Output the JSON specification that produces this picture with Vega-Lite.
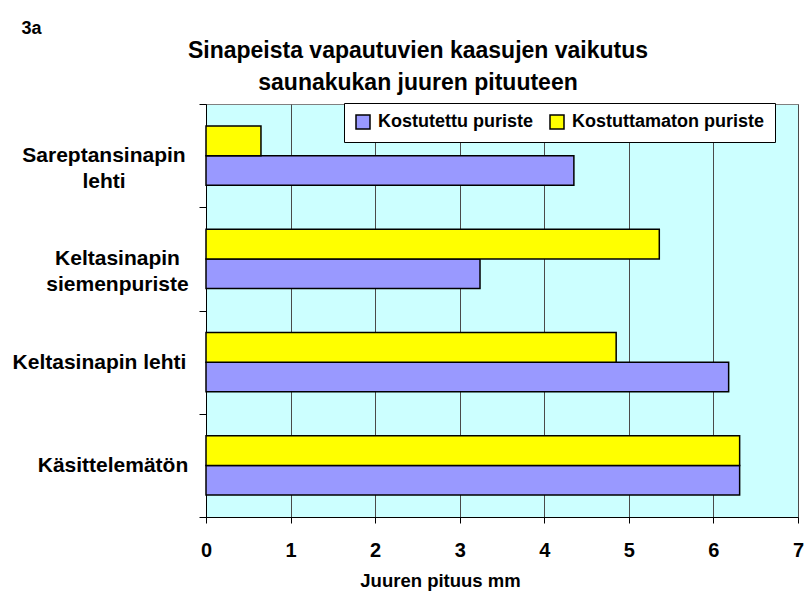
{
  "$schema": "https://vega.github.io/schema/vega-lite/v6.json",
  "width": 592,
  "height": 413,
  "autosize": {"type": "none"},
  "padding": {"left": 206, "top": 104, "right": 13, "bottom": 79},
  "background": "white",
  "title": {
    "text": ["Sinapeista vapautuvien kaasujen vaikutus", "saunakukan juuren pituuteen"],
    "font": "Liberation Sans",
    "fontSize": 23,
    "fontWeight": "bold",
    "color": "black",
    "anchor": "middle",
    "dx": -84,
    "dy": 86,
    "offset": 10,
    "lineHeight": 32
  },
  "data": {
    "values": [
      {"kasittely": "Sareptansinapin lehti", "sarja": "Kostutettu puriste", "pituus": 4.35},
      {"kasittely": "Sareptansinapin lehti", "sarja": "Kostuttamaton puriste", "pituus": 0.65},
      {"kasittely": "Keltasinapin siemenpuriste", "sarja": "Kostutettu puriste", "pituus": 3.24},
      {"kasittely": "Keltasinapin siemenpuriste", "sarja": "Kostuttamaton puriste", "pituus": 5.36},
      {"kasittely": "Keltasinapin lehti", "sarja": "Kostutettu puriste", "pituus": 6.18},
      {"kasittely": "Keltasinapin lehti", "sarja": "Kostuttamaton puriste", "pituus": 4.85},
      {"kasittely": "Käsittelemätön", "sarja": "Kostutettu puriste", "pituus": 6.31},
      {"kasittely": "Käsittelemätön", "sarja": "Kostuttamaton puriste", "pituus": 6.31}
    ]
  },
  "mark": {"type": "bar", "stroke": "black", "strokeWidth": 1.5},
  "encoding": {
    "y": {
      "field": "kasittely",
      "type": "nominal",
      "sort": ["Sareptansinapin lehti", "Keltasinapin siemenpuriste", "Keltasinapin lehti", "Käsittelemätön"],
      "scale": {"paddingInner": 0, "paddingOuter": 0},
      "axis": {
        "title": "3a",
        "titleAngle": 0,
        "titleX": -185,
        "titleY": -71,
        "titleAlign": "left",
        "titleBaseline": "alphabetic",
        "titleFont": "Liberation Sans",
        "titleFontSize": 18,
        "titleFontWeight": "bold",
        "titleColor": "black",
        "tickBand": "extent",
        "tickSize": 7,
        "tickColor": "black",
        "domainColor": "black",
        "grid": false,
        "labelFont": "Liberation Sans",
        "labelFontSize": 21,
        "labelFontWeight": "bold",
        "labelColor": "black",
        "labelAlign": "center",
        "labelBaseline": "middle",
        "labelLineHeight": 26,
        "labelLimit": 400,
        "labelPadding": {
          "condition": [
            {"test": "datum.value == 'Sareptansinapin lehti'", "value": 95.5},
            {"test": "datum.value == 'Keltasinapin siemenpuriste'", "value": 82},
            {"test": "datum.value == 'Keltasinapin lehti'", "value": 100}
          ],
          "value": 86.5
        },
        "labelExpr": "datum.value == 'Sareptansinapin lehti' ? ['Sareptansinapin', 'lehti'] : datum.value == 'Keltasinapin siemenpuriste' ? ['Keltasinapin', 'siemenpuriste'] : datum.value"
      }
    },
    "yOffset": {
      "field": "sarja",
      "type": "nominal",
      "sort": ["Kostuttamaton puriste", "Kostutettu puriste"],
      "scale": {"paddingInner": 0, "paddingOuter": 0.746}
    },
    "x": {
      "field": "pituus",
      "type": "quantitative",
      "scale": {"domain": [0, 7], "nice": false},
      "axis": {
        "title": "Juuren pituus mm",
        "titleX": 234,
        "titleY": 69,
        "titleAlign": "center",
        "titleAnchor": null,
        "titleBaseline": "alphabetic",
        "titleFont": "Liberation Sans",
        "titleFontSize": 18.5,
        "titleFontWeight": "bold",
        "titleColor": "black",
        "values": [0, 1, 2, 3, 4, 5, 6, 7],
        "format": "d",
        "grid": true,
        "gridColor": "#4a4a4a",
        "gridWidth": 1,
        "tickSize": 6,
        "tickColor": "black",
        "domainColor": "black",
        "labelFont": "Liberation Sans",
        "labelFontSize": 20,
        "labelFontWeight": "bold",
        "labelColor": "black",
        "labelBaseline": "alphabetic",
        "labelPadding": 33,
        "labelFlush": false,
        "labelOverlap": false
      }
    },
    "color": {
      "field": "sarja",
      "type": "nominal",
      "scale": {"domain": ["Kostutettu puriste", "Kostuttamaton puriste"], "range": ["#9999FF", "#FFFF00"]},
      "legend": {
        "title": null,
        "orient": "none",
        "legendX": 138,
        "legendY": -1,
        "direction": "horizontal",
        "fillColor": "white",
        "strokeColor": "black",
        "padding": 10,
        "columnPadding": 14,
        "symbolType": "square",
        "symbolSize": 196,
        "symbolStrokeColor": "black",
        "symbolStrokeWidth": 1.5,
        "symbolOpacity": 1,
        "labelOffset": 6,
        "labelFont": "Liberation Sans",
        "labelFontSize": 18,
        "labelFontWeight": "bold",
        "labelColor": "black",
        "labelLimit": 400
      }
    }
  },
  "config": {
    "view": {"fill": "#CCFFFF", "stroke": "#808080", "strokeWidth": 1}
  }
}
